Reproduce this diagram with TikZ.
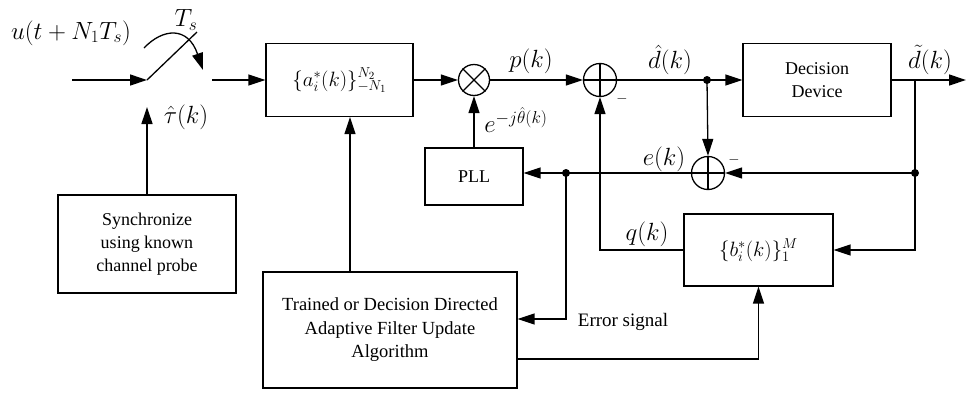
\documentclass[tikz,border=0pt]{standalone}
\usepackage{fontspec}
\setmainfont{Liberation Serif}
\usetikzlibrary{arrows.meta}
\begin{document}
\begin{tikzpicture}[x=1pt,y=-1pt,
  line width=1.3pt,
  arr/.style={-{Triangle[length=17pt,width=11pt]}},
  blk/.style={draw,line width=1.2pt,minimum width=#1,inner sep=0pt,align=center,
    font=\fontsize{18}{23}\selectfont},
  junc/.style={circle,fill,inner sep=0pt,minimum size=8pt},
  summ/.style={draw,circle,minimum size=33pt,inner sep=0pt,line width=1.3pt},
  lbl/.style={font=\fontsize{25}{28}\selectfont,inner sep=0pt},
  sgn/.style={font=\fontsize{15}{18}\selectfont,inner sep=0pt},
  txt/.style={font=\fontsize{19}{22}\selectfont,inner sep=0pt}]
\useasboundingbox (0,0) rectangle (967,394);

% blocks
\node[blk=147pt,minimum height=73pt,font=\fontsize{22}{26}\selectfont] (a) at (339.5,80) {$\{a_i^*(k)\}_{-N_1}^{N_2}$};
\node[blk=98pt,minimum height=57pt] (pll) at (474,176.5) {PLL};
\node[blk=148pt,minimum height=73pt] (dec) at (817,80) {Decision\\Device};
\node[blk=149pt,minimum height=72pt,font=\fontsize{22}{26}\selectfont] (b) at (758.5,250) {$\{b_i^*(k)\}_1^M$};
\node[blk=178pt,minimum height=98pt] (sync) at (147,244) {Synchronize\\using known\\channel probe};
\node[blk=254pt,minimum height=116pt,font=\fontsize{18.5}{23.5}\selectfont] (trained) at (390,330) {Trained or Decision Directed\\Adaptive Filter Update\\Algorithm};

% multiplier and summers
\node[summ,minimum size=31pt] (mult) at (474,80) {};
\draw (mult.north west) -- (mult.south east) (mult.north east) -- (mult.south west);
\node[summ] (sum1) at (600,80) {};
\draw (sum1.north) -- (sum1.south) (sum1.west) -- (sum1.east);
\node[summ] (sum2) at (708,173) {};
\draw (sum2.north) -- (sum2.south) (sum2.west) -- (sum2.east);

% branch points and free ends
\coordinate (in) at (72,80);
\coordinate (sw1) at (147,80);
\coordinate (swtop) at (197,32);
\coordinate (sw2) at (212,80);
\coordinate (tauend) at (147,107);
\coordinate (ax) at (350,0);
\coordinate (j1) at (707,80);
\coordinate (j2) at (915,80);
\coordinate (j3) at (915,173);
\coordinate (j4) at (566,173);
\coordinate (esig) at (566,319);
\coordinate (upd) at (517,359);
\coordinate (out) at (966,80);

% sampling switch
\draw[arr] (in) -- (sw1);
\draw (sw1) -- (swtop);
\draw[arr] (144,48) .. controls (163,28) and (188,26) .. (203,70);
\draw[arr] (sw2) -- (a.west);
\draw[arr] (sync.north) -- (tauend);

% forward path
\draw[arr] (ax |- trained.north) -- (ax |- a.south);
\draw[arr] (a.east) -- (mult.west);
\draw[arr] (pll.north) -- (mult.south);
\draw[arr] (mult.east) -- (sum1.west);
\draw (sum1.east) -- (j1);
\draw[arr] (j1) -- (dec.west);
\draw[arr] (dec.east) -- (out);

% error and feedback paths
\draw[arr] (j1) -- (sum2.north);
\draw (j2) -- (j3);
\draw[arr] (j3) -- (sum2.east);
\draw[arr] (j3) |- (b.east);
\draw[arr] (sum2.west) -- (sum2.west -| pll.east);
\draw[arr] (j4) -- (esig) -- (esig -| trained.east);
\draw[arr] (b.west) -| (sum1.south);
\draw[arr] (upd) -| (b.south);

\node[junc] at (j1) {};
\node[junc] at (j3) {};
\node[junc] at (j4) {};

% labels
\node[lbl] (lu) at (71,33) {$u(t+N_1T_s)$};
\node[lbl] (lts) at (186,20) {$T_s$};
\node[lbl] (ltau) at (186,117) {$\hat\tau(k)$};
\node[lbl] (lp) at (531,61) {$p(k)$};
\node[lbl,font=\fontsize{23}{26}\selectfont] (lth) at (516,120) {$e^{-j\hat\theta(k)}$};
\node[lbl] (ldh) at (670,60) {$\hat d(k)$};
\node[lbl] (ldt) at (930,60) {$\tilde d(k)$};
\node[lbl] (le) at (664,159) {$e(k)$};
\node[lbl] (lq) at (647,234) {$q(k)$};
\node[sgn] (lm1) at (622,99) {$-$};
\node[sgn] (lm2) at (734,160) {$-$};
\node[txt] (lerr) at (623,322) {Error signal};
\end{tikzpicture}
\end{document}
